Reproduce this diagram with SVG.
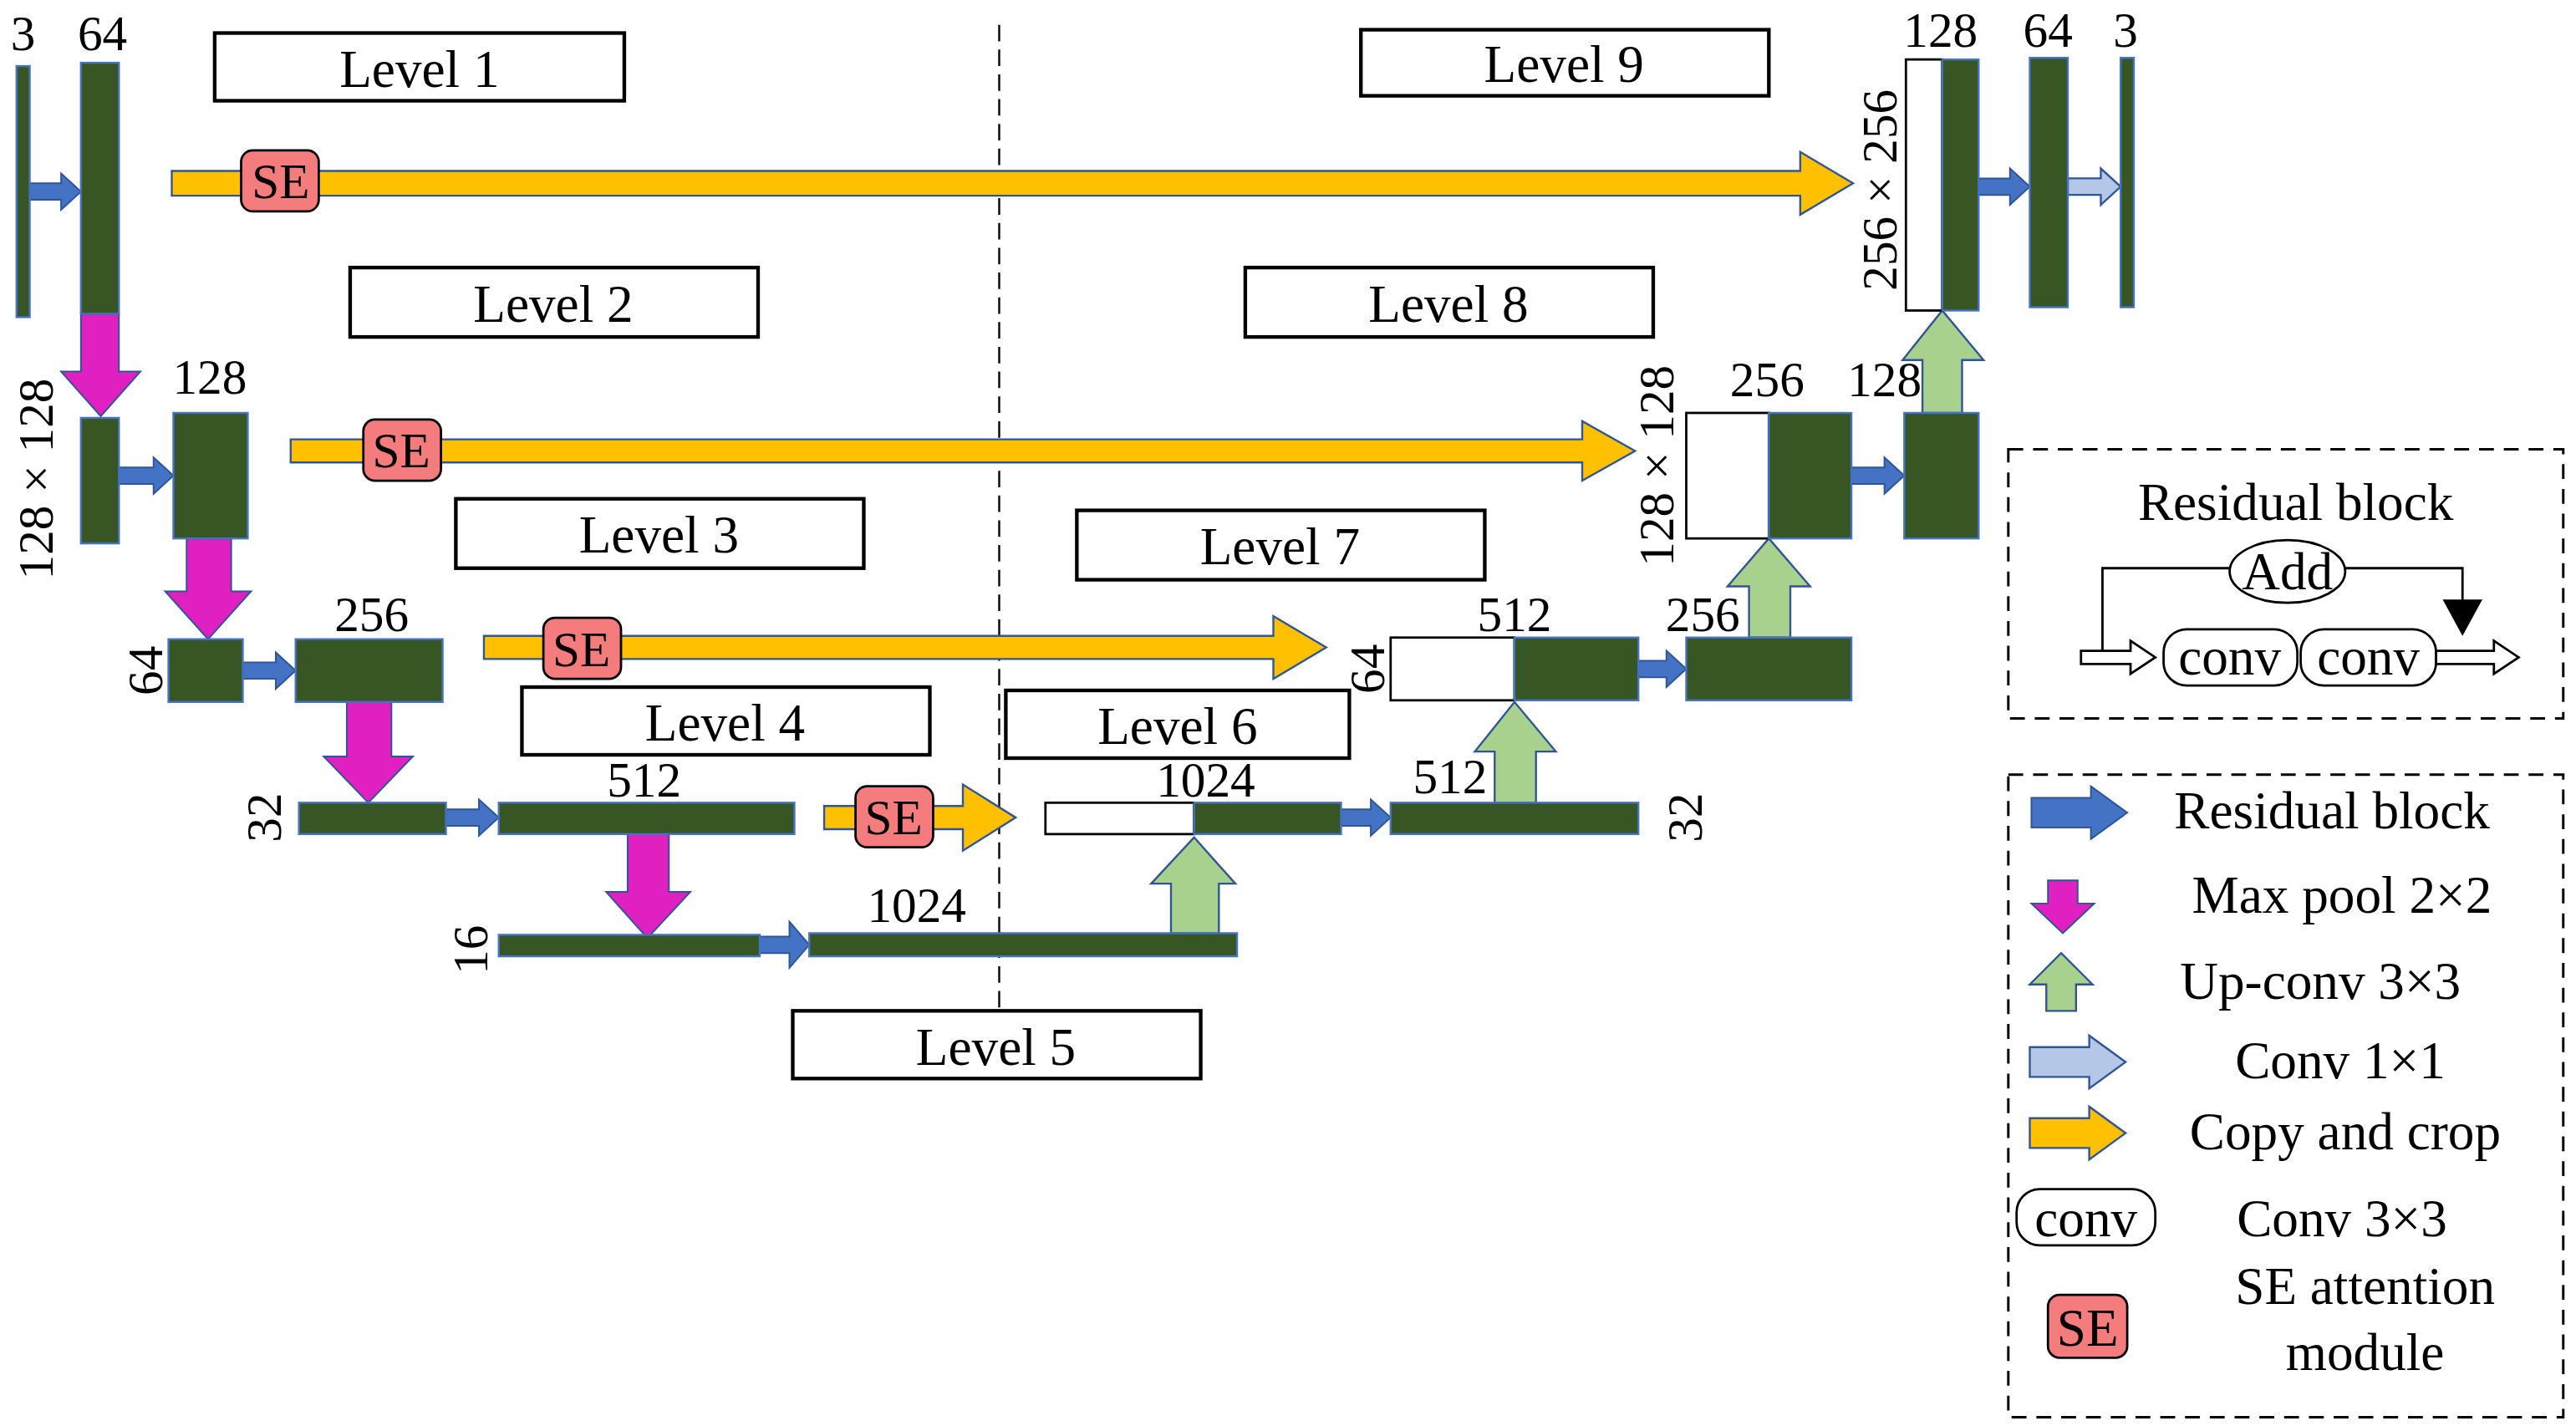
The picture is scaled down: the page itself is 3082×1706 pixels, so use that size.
<svg xmlns="http://www.w3.org/2000/svg" width="3082" height="1706" viewBox="0 0 3082 1706">
<style>
text{font-family:"Liberation Serif","DejaVu Serif",serif;fill:#000;text-anchor:middle;dominant-baseline:central}
.lv{font-size:32px}.n{font-size:30px}.lg{font-size:32px}
.lb{fill:#fff;stroke:#000;stroke-width:2.2}
.bar{fill:#375623;stroke:#4472c4;stroke-width:1.2}
.wb{fill:#fff;stroke:#000;stroke-width:1.4}
.bl{fill:#4472c4;stroke:#2f5597;stroke-width:1}
.lbl{fill:#b4c7e7;stroke:#2f5597;stroke-width:1.2}
.ye{fill:#ffc000;stroke:#2f5597;stroke-width:1.2}
.mg{fill:#e020c0;stroke:#2f5597;stroke-width:1}
.gr{fill:#a9d18e;stroke:#2f5597;stroke-width:1.2}
.se{fill:#f47c7c;stroke:#000;stroke-width:1.4}
.dash{fill:none;stroke:#000;stroke-width:1.5;stroke-dasharray:9 6}
.ln{fill:none;stroke:#000;stroke-width:1.4}
</style>
<rect width="3082" height="1706" fill="#fff"/>
<g transform="scale(1.976)">
<line x1="605" y1="15" x2="605" y2="612" stroke="#000" stroke-width="1.2" stroke-dasharray="10 5"/>
<g id="levels">
<rect class="lb" x="130" y="20" width="248" height="41"/><text class="lv" x="254" y="42">Level 1</text>
<rect class="lb" x="212" y="162" width="247" height="42"/><text class="lv" x="335" y="184">Level 2</text>
<rect class="lb" x="276" y="302" width="247" height="42"/><text class="lv" x="399" y="324">Level 3</text>
<rect class="lb" x="316" y="416" width="247" height="41"/><text class="lv" x="439" y="438">Level 4</text>
<rect class="lb" x="480" y="612" width="247" height="41"/><text class="lv" x="603" y="634">Level 5</text>
<rect class="lb" x="609" y="418" width="208" height="41"/><text class="lv" x="713" y="440">Level 6</text>
<rect class="lb" x="652" y="309" width="247" height="42"/><text class="lv" x="775" y="331">Level 7</text>
<rect class="lb" x="754" y="162" width="247" height="42"/><text class="lv" x="877" y="184">Level 8</text>
<rect class="lb" x="824" y="18" width="247" height="40"/><text class="lv" x="947" y="39">Level 9</text>
</g>
<g id="connectors">
<polygon class="ye" points="104,103.5 1090,103.5 1090,92 1122,111 1090,130 1090,118.5 104,118.5"/>
<polygon class="ye" points="176,266 958,266 958,255 990,273 958,291 958,280 176,280"/>
<polygon class="ye" points="293,385 771,385 771,373 803,392 771,411 771,399 293,399"/>
<polygon class="ye" points="499,488 583,488 583,475 615,495 583,515 583,502 499,502"/>
<polygon class="bl" points="18,111 37,111 37,105 49,116 37,127 37,121 18,121"/>
<polygon class="bl" points="72,283 93,283 93,277 105,288 93,299 93,293 72,293"/>
<polygon class="bl" points="147,401 167,401 167,395 179,406 167,417 167,411 147,411"/>
<polygon class="bl" points="270,490 290,490 290,484 302,495 290,506 290,500 270,500"/>
<polygon class="bl" points="460,567 478,567 478,558 490,572 478,586 478,577 460,577"/>
<polygon class="bl" points="812,490 830,490 830,484 842,495 830,506 830,500 812,500"/>
<polygon class="bl" points="992,400 1009,400 1009,394 1021,405 1009,416 1009,410 992,410"/>
<polygon class="bl" points="1121,283 1141,283 1141,277 1153,288 1141,299 1141,293 1121,293"/>
<polygon class="bl" points="1198,108 1217,108 1217,102 1229,113 1217,124 1217,118 1198,118"/>
<polygon class="lbl" points="1252,108 1272,108 1272,102 1284,113 1272,124 1272,118 1252,118"/>
<polygon class="mg" points="49,190 72,190 72,225 85,225 61,252 37,225 49,225"/>
<polygon class="mg" points="113,326 140,326 140,358 152,358 126,387 100,358 113,358"/>
<polygon class="mg" points="210,425 237,425 237,458 250,458 223,486 196,458 210,458"/>
<polygon class="mg" points="380,505 405,505 405,540 418,540 392,568 367,540 380,540"/>
<polygon class="gr" points="709,565 738,565 738,535 748,535 723,507 697,535 709,535"/>
<polygon class="gr" points="905,486 930,486 930,455 942,455 917,425 893,455 905,455"/>
<polygon class="gr" points="1059,386 1084,386 1084,355 1096,355 1071,326 1046,355 1059,355"/>
<polygon class="gr" points="1164,250 1188,250 1188,218 1201,218 1176,188 1152,218 1164,218"/>
</g>
<g id="se">
<rect class="se" x="146" y="91" width="47" height="37" rx="7"/><text class="n" x="170" y="110">SE</text>
<rect class="se" x="220" y="254" width="47" height="37" rx="7"/><text class="n" x="243" y="273">SE</text>
<rect class="se" x="329" y="374" width="47" height="37" rx="7"/><text class="n" x="352" y="393">SE</text>
<rect class="se" x="518" y="476" width="47" height="37" rx="7"/><text class="n" x="541" y="495">SE</text>
</g>
<g id="enc1">
<rect class="bar" x="10" y="40" width="8" height="152"/><text class="n" x="14" y="20">3</text>
<rect class="bar" x="49" y="38" width="23" height="152"/><text class="n" x="62" y="20">64</text>
</g>
<g id="enc2">
<rect class="bar" x="49" y="253" width="23" height="76"/>
<rect class="bar" x="105" y="250" width="45" height="76"/><text class="n" x="127" y="228">128</text>
<text class="n" transform="translate(22,290) rotate(-90)">128 × 128</text>
</g>
<g id="enc3">
<rect class="bar" x="102" y="387" width="45" height="38"/>
<rect class="bar" x="179" y="387" width="89" height="38"/><text class="n" x="225" y="372">256</text>
<text class="n" transform="translate(88,406) rotate(-90)">64</text>
</g>
<g id="enc4">
<rect class="bar" x="181" y="486" width="89" height="19"/>
<rect class="bar" x="302" y="486" width="179" height="19"/><text class="n" x="390" y="472">512</text>
<text class="n" transform="translate(160,495) rotate(-90)">32</text>
</g>
<g id="enc5">
<rect class="bar" x="302" y="566" width="158" height="13"/>
<rect class="bar" x="490" y="565" width="259" height="14"/><text class="n" x="555" y="548">1024</text>
<text class="n" transform="translate(285,575) rotate(-90)">16</text>
</g>
<g id="dec6">
<rect class="wb" x="633" y="486" width="90" height="19"/>
<rect class="bar" x="723" y="486" width="89" height="19"/><text class="n" x="730" y="472">1024</text>
<rect class="bar" x="842" y="486" width="150" height="19"/><text class="n" x="878" y="470">512</text>
<text class="n" transform="translate(1020,495) rotate(-90)">32</text>
</g>
<g id="dec7">
<rect class="wb" x="842" y="386" width="75" height="38"/>
<rect class="bar" x="917" y="386" width="75" height="38"/><text class="n" x="917" y="372">512</text>
<rect class="bar" x="1021" y="386" width="100" height="38"/><text class="n" x="1031" y="372">256</text>
<text class="n" transform="translate(828,405) rotate(-90)">64</text>
</g>
<g id="dec8">
<rect class="wb" x="1021" y="250" width="50" height="76"/>
<rect class="bar" x="1071" y="250" width="50" height="76"/><text class="n" x="1070" y="230">256</text>
<rect class="bar" x="1153" y="250" width="45" height="76"/><text class="n" x="1141" y="230">128</text>
<text class="n" transform="translate(1003,282) rotate(-90)">128 × 128</text>
</g>
<g id="dec9">
<rect class="wb" x="1154" y="36" width="22" height="152"/>
<rect class="bar" x="1176" y="36" width="22" height="152"/><text class="n" x="1175" y="18">128</text>
<rect class="bar" x="1229" y="35" width="23" height="151"/><text class="n" x="1240" y="18">64</text>
<rect class="bar" x="1284" y="35" width="8" height="151"/><text class="n" x="1287" y="18">3</text>
<text class="n" transform="translate(1138,115) rotate(-90)">256 × 256</text>
</g>
<g id="residual">
<rect class="dash" x="1216" y="272" width="336" height="163"/>
<text class="lg" x="1390" y="304">Residual block</text>
<path class="ln" d="M1273,396 V344 H1350 M1420,344 H1491 V365"/>
<polygon points="1479,363 1503,363 1491,385" fill="#000"/>
<ellipse class="ln" cx="1385" cy="346" rx="35" ry="19"/><text class="lg" x="1385" y="346">Add</text>
<polygon class="wb" points="1260,394 1290,394 1290,388 1305,398 1290,408 1290,402 1260,402"/>
<rect class="wb" x="1310" y="381" width="81" height="34" rx="14"/><text class="lg" x="1350" y="398">conv</text>
<rect class="wb" x="1393" y="381" width="82" height="34" rx="14"/><text class="lg" x="1434" y="398">conv</text>
<polygon class="wb" points="1475,394 1510,394 1510,388 1525,398 1510,408 1510,402 1475,402"/>
</g>
<g id="legend">
<rect class="dash" x="1216" y="469" width="336" height="389"/>
<polygon class="bl" points="1230,483 1266,483 1266,476 1288,492 1266,508 1266,501 1230,501"/><text class="lg" x="1412" y="491">Residual block</text>
<polygon class="mg" points="1240,533 1258,533 1258,547 1268,547 1249,565 1230,547 1240,547"/><text class="lg" x="1418" y="542">Max pool 2×2</text>
<polygon class="gr" points="1239,612 1257,612 1257,596 1267,596 1248,577 1229,596 1239,596"/><text class="lg" x="1405" y="594">Up-conv 3×3</text>
<polygon class="lbl" points="1229,634 1265,634 1265,627 1287,643 1265,659 1265,652 1229,652"/><text class="lg" x="1417" y="642">Conv 1×1</text>
<polygon class="ye" points="1229,677 1265,677 1265,670 1287,686 1265,702 1265,695 1229,695"/><text class="lg" x="1420" y="685">Copy and crop</text>
<rect class="wb" x="1221" y="720" width="84" height="34" rx="14"/><text class="lg" x="1263" y="738">conv</text><text class="lg" x="1418" y="738">Conv 3×3</text>
<rect class="se" x="1240" y="784" width="48" height="38" rx="7"/><text class="lg" x="1264" y="804">SE</text>
<text class="lg" x="1432" y="779">SE attention</text><text class="lg" x="1432" y="819">module</text>
</g>
</g>
</svg>
